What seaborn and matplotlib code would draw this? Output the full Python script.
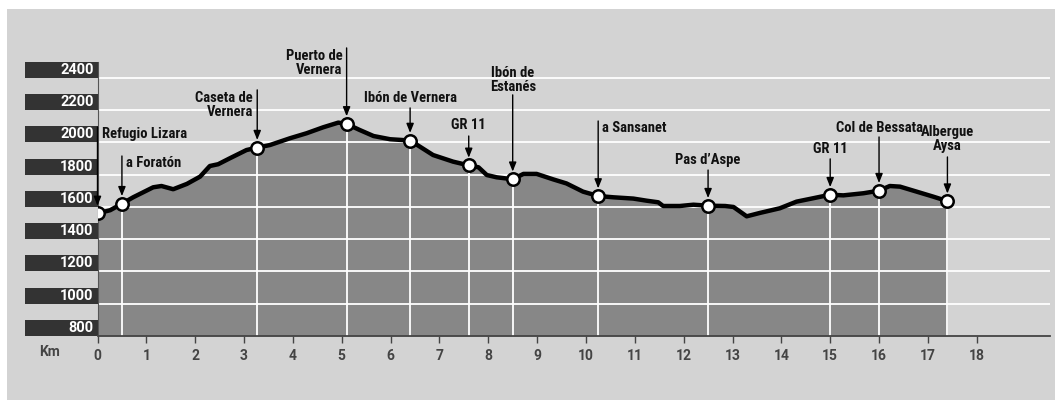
import numpy as np
import matplotlib
matplotlib.use("Agg")
import matplotlib.pyplot as plt
import matplotlib.transforms as mtransforms
from matplotlib import font_manager
from matplotlib.patches import Rectangle
import seaborn as sns

# ---------------------------------------------------------------
# Datos del perfil (km, altitud en m)
# ---------------------------------------------------------------
perfil_km = [0.0, 0.26, 0.5, 0.73, 1.14, 1.31, 1.55, 1.83, 2.1, 2.3, 2.47, 2.71,
             3.05, 3.27, 3.53, 3.94, 4.28, 4.62, 4.93, 5.1, 5.37, 5.65, 5.99,
             6.4, 6.6, 6.87, 7.28, 7.6, 7.8, 7.97, 8.17, 8.5, 8.72, 8.99, 9.33,
             9.6, 9.94, 10.25, 10.56, 10.97, 11.24, 11.48, 11.58, 11.92, 12.2,
             12.5, 12.85, 13.02, 13.29, 13.56, 13.97, 14.31, 14.65, 15.0, 15.27,
             15.68, 16.0, 16.22, 16.43, 16.77, 17.11, 17.4]
perfil_alt = [1560, 1580, 1620, 1660, 1722, 1730, 1710, 1743, 1788, 1854, 1865, 1902,
              1953, 1968, 1984, 2026, 2057, 2094, 2123, 2115, 2077, 2040, 2020,
              2012, 1974, 1922, 1881, 1858, 1846, 1798, 1784, 1772, 1805, 1805, 1771,
              1746, 1695, 1668, 1660, 1652, 1639, 1629, 1606, 1606, 1614,
              1608, 1606, 1600, 1542, 1563, 1592, 1633, 1654, 1676, 1672,
              1685, 1701, 1730, 1726, 1695, 1664, 1636]

# Puntos de paso
puntos = ["Refugio Lizara", "a Foratón", "Caseta de\nVernera", "Puerto de\nVernera",
          "Ibón de Vernera", "GR 11", "Ibón de\nEstanés", "a Sansanet", "Pas d’Aspe",
          "GR 11", "Col de Bessata", "Albergue\nAysa"]
puntos_km = [0.0, 0.5, 3.27, 5.1, 6.4, 7.6, 8.5, 10.25, 12.5, 15.0, 16.0, 17.4]
puntos_alt = [1560, 1620, 1968, 2115, 2012, 1858, 1772, 1668, 1608, 1676, 1701, 1636]

alt_ticks = [800, 1000, 1200, 1400, 1600, 1800, 2000, 2200, 2400]
km_ticks = list(range(0, 19))

# Colocación de las etiquetas: (alineación, altura del texto, inicio de la flecha)
etiquetas_pos = [("left", 2053, 2096), ("left", 1873, 1916), ("right", 2233, 2326),
                 ("right", 2493, 2586), ("center", 2276, 2214), ("center", 2109, 2040),
                 ("center", 2388, 2295), ("left", 2090, 2133), ("center", 1891, 1829),
                 ("center", 1960, 1898), ("center", 2090, 2034), ("center", 2022, 1910)]

# ---------------------------------------------------------------
# Estilo
# ---------------------------------------------------------------
sns.set_style("white")
disponibles = {f.name for f in font_manager.fontManager.ttflist}
fuente_estrecha = [f for f in ["Liberation Sans Narrow", "Roboto Condensed",
                               "DejaVu Sans Condensed", "Roboto", "DejaVu Sans"]
                   if f in disponibles]
fuente_numeros = [f for f in ["Roboto", "DejaVu Sans"] if f in disponibles]
plt.rcParams["font.family"] = fuente_numeros

FONDO = "#d3d3d3"
RELLENO = "#878787"
OSCURO = "#333333"

fig = plt.figure(figsize=(10.55, 4), dpi=100)
fig.patch.set_facecolor("white")
fig.patches.append(Rectangle((7 / 1055, 0), 1, 1 - 9 / 400, transform=fig.transFigure,
                             facecolor=FONDO, edgecolor="none", zorder=-10))

ax = fig.add_axes([97.5 / 1055, 0.16, (1050 - 97.5) / 1055, 0.7258])
ax.set_facecolor(FONDO)
ax.set_xlim(0, 19.5)
ax.set_ylim(800, 2600)

# relleno del perfil
ax.fill_between(perfil_km, 800, perfil_alt, color=RELLENO, lw=0, zorder=1)

# líneas de cuadrícula blancas
for v in alt_ticks[1:]:
    ax.axhline(v, color="white", lw=1.3, zorder=1.5)

# líneas verticales de los puntos de paso
ax.vlines(puntos_km, 800, puntos_alt, color="white", lw=1.3, zorder=1.6)

# línea del perfil
sns.lineplot(x=perfil_km, y=perfil_alt, ax=ax, color="black", lw=3.2, sort=False,
             zorder=3)
sns.scatterplot(x=puntos_km, y=puntos_alt, ax=ax, s=80, color="white",
                edgecolor="black", linewidth=1.8, zorder=4)

# etiquetas y flechas
for nombre, km, alt, (ha, ty, top) in zip(puntos, puntos_km, puntos_alt, etiquetas_pos):
    ax.annotate("", xy=(km, alt), xytext=(km, top),
                arrowprops=dict(arrowstyle="-|>,head_length=0.55,head_width=0.22",
                                color="black", lw=1.0, shrinkA=0, shrinkB=5.5),
                zorder=5)
    dx = {"left": 3, "right": -3, "center": 0}[ha]
    ax.annotate(nombre, xy=(km, ty), xytext=(dx, 0), textcoords="offset points",
                ha=ha, va="center", fontsize=10.5, fontweight="bold",
                family=fuente_estrecha, fontstretch="condensed", color="#111111",
                linespacing=1.05, zorder=5)

# ejes
sns.despine(ax=ax, top=True, right=True)
ax.spines["bottom"].set_bounds(0, 19.5)
ax.spines["bottom"].set_color("#444444")
ax.spines["bottom"].set_linewidth(1.3)
ax.spines["left"].set_bounds(800, 2500)
ax.spines["left"].set_color("#555555")
ax.spines["left"].set_linewidth(0.8)

ax.set_xticks(km_ticks)
ax.set_xticklabels([str(k) for k in km_ticks])
ax.tick_params(axis="x", direction="out", length=5, width=1, color="#444444",
               labelsize=10, labelcolor="#444444", pad=4, bottom=True)
for lab in ax.get_xticklabels():
    lab.set_fontweight("bold")
ax.set_yticks([])

# etiquetas de altitud en barras oscuras
trans = mtransforms.blended_transform_factory(ax.transAxes, ax.transData)
for v in alt_ticks:
    ax.add_patch(Rectangle((-0.0761, v), 0.0761, 100, transform=trans,
                           facecolor=OSCURO, edgecolor="none", clip_on=False, zorder=2))
    ax.text(-0.004, v + 50, str(v), transform=trans, ha="right", va="center",
            color="white", fontsize=10.5, fontweight="bold", zorder=3)

ax.text(-0.05, -0.055, "Km", transform=ax.transAxes, ha="center", va="center",
        color="#444444", fontsize=10, fontweight="bold")

fig.savefig("out.png", dpi=100, facecolor=fig.get_facecolor())
